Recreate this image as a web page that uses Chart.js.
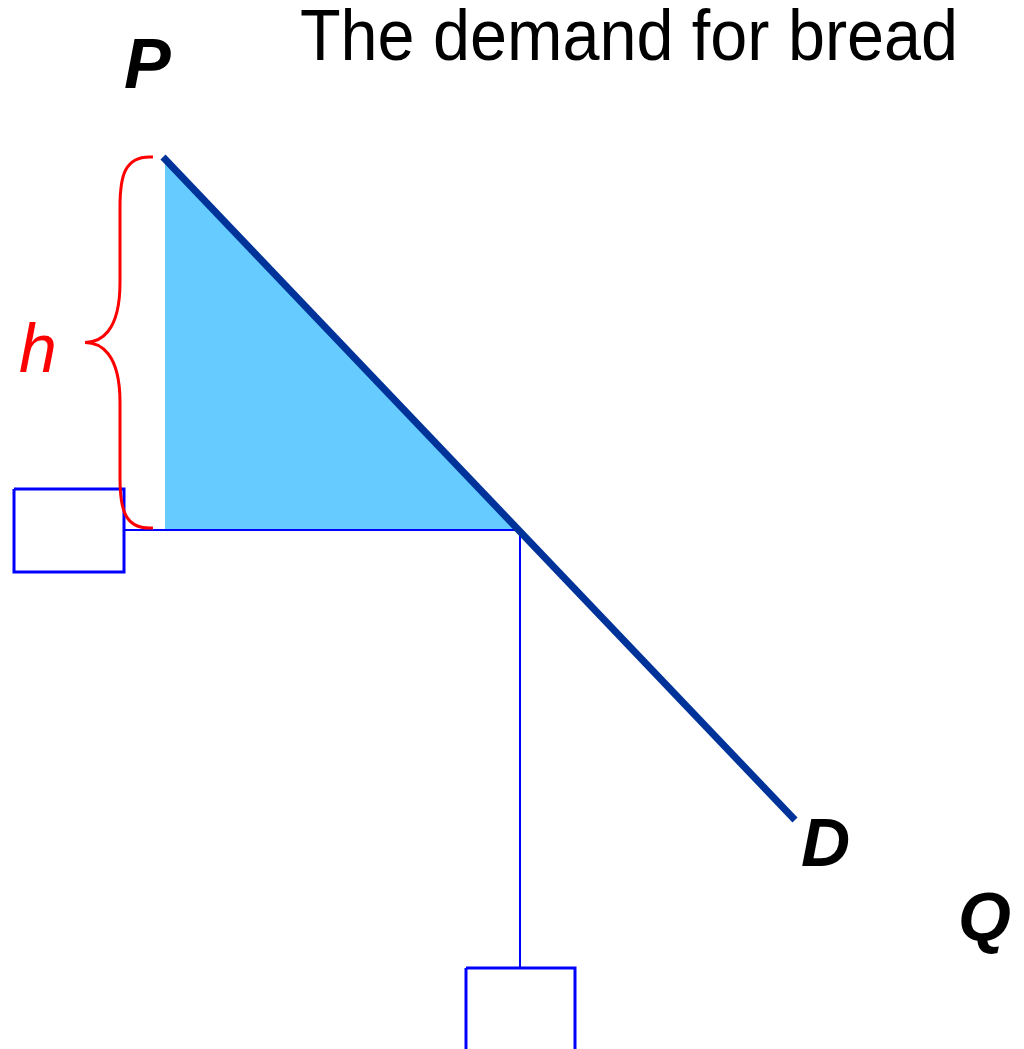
<!DOCTYPE html>
<html>
<head>
<meta charset="utf-8">
<script src="https://cdn.jsdelivr.net/npm/chart.js@4"></script>
<style>
  html, body { margin: 0; padding: 0; background: #fff; }
  #wrap { width: 1024px; height: 1049px; }
</style>
</head>
<body>
<div id="wrap"><canvas id="myChart" width="1024" height="1049"></canvas></div>
<script>
// demand curve end points (q, p) - p grows downward on this sheet
const demandQ = [163, 795];
const demandP = [157, 820];
// market point where price line meets demand
const marketQ = [518];
const marketP = [530];
// consumer surplus triangle (top edge and base)
const surplusQ = [165, 518];
const surplusP = [160, 530];
// guide lines
const priceLineQ = [124, 518];
const qtyLineP = [530, 968];
// empty label boxes
const priceBoxQ = [14, 124];
const priceBoxP = [489, 572];
const qtyBoxQ = [466, 575];
const qtyBoxP = [968, 1052];
// brace from top to bottom of h
const braceP = [157, 528];

const title = 'The demand for bread';

function pts(xs, ys) { return xs.map((x, i) => ({x: x, y: ys[i]})); }
function box(xs, ys) {
  return [{x: xs[0], y: ys[0]}, {x: xs[1], y: ys[0]}, {x: xs[1], y: ys[1]},
          {x: xs[0], y: ys[1]}, {x: xs[0], y: ys[0]}];
}

const lineDefaults = { showLine: true, pointRadius: 0, fill: false, tension: 0 };

const extras = {
  id: 'extras',
  afterDatasetsDraw(chart) {
    const c = chart.ctx, sx = chart.scales.x, sy = chart.scales.y;
    const X = v => sx.getPixelForValue(v), Y = v => sy.getPixelForValue(v);
    c.save();
    // brace
    const top = Y(braceP[0]), bot = Y(braceP[1]), mid = (top + bot) / 2;
    const xr = X(153), xs = X(120), xt = X(85);
    c.strokeStyle = '#ff0000';
    c.lineWidth = 3;
    c.beginPath();
    c.moveTo(xr, top);
    c.bezierCurveTo(xs + 4, top - 2, xs, top + 20, xs, top + 50);
    c.lineTo(xs, mid - 60);
    c.bezierCurveTo(xs, mid - 10, xt + 15, mid, xt, mid);
    c.bezierCurveTo(xt + 15, mid, xs, mid + 10, xs, mid + 60);
    c.lineTo(xs, bot - 50);
    c.bezierCurveTo(xs, bot - 20, xs + 4, bot + 2, xr, bot);
    c.stroke();
    // labels
    c.fillStyle = '#000';
    c.textBaseline = 'alphabetic';
    c.textAlign = 'left';
    c.font = 'italic bold 70px "Liberation Sans"';
    c.fillText('P', X(124), Y(88));
    c.font = 'italic bold 68px "Liberation Sans"';
    c.fillText('D', X(801), Y(866));
    c.fillText('Q', X(958), Y(940));
    c.fillStyle = '#ff0000';
    c.font = 'italic 68px "Liberation Sans"';
    c.fillText('h', X(19), Y(372));
    // title, narrow
    c.fillStyle = '#000';
    c.font = '72px "Liberation Sans"';
    const w = c.measureText(title).width;
    c.translate(X(300), Y(60));
    c.scale(658 / w, 1);
    c.fillText(title, 0, 0);
    c.restore();
  }
};

const ctx = document.getElementById('myChart').getContext('2d');
const chart = new Chart(ctx, {
  type: 'scatter',
  data: {
    datasets: [
      { ...lineDefaults, order: 6, data: pts(surplusQ, surplusP), borderWidth: 0, borderColor: 'rgba(0,0,0,0)',
        backgroundColor: '#66ccff', fill: {value: marketP[0]} },
      { ...lineDefaults, order: 5, data: pts(priceLineQ, [marketP[0], marketP[0]]), borderColor: '#0000ff', borderWidth: 2 },
      { ...lineDefaults, order: 4, data: pts([marketQ[0] + 2, marketQ[0] + 2], qtyLineP), borderColor: '#0000ff', borderWidth: 2 },
      { ...lineDefaults, order: 3, data: box(priceBoxQ, priceBoxP), borderColor: '#0000ff', borderWidth: 3 },
      { ...lineDefaults, order: 2, data: box(qtyBoxQ, qtyBoxP), borderColor: '#0000ff', borderWidth: 3 },
      { ...lineDefaults, order: 1, data: pts(demandQ, demandP), borderColor: '#003399', borderWidth: 7, borderCapStyle: 'butt' }
    ]
  },
  options: {
    responsive: false,
    animation: false,
    layout: { padding: 0 },
    plugins: { legend: { display: false }, tooltip: { enabled: false } },
    scales: {
      x: { type: 'linear', min: 0, max: 1024, display: false },
      y: { type: 'linear', min: 0, max: 1049, reverse: true, display: false }
    }
  },
  plugins: [extras]
});
</script>
</body>
</html>
